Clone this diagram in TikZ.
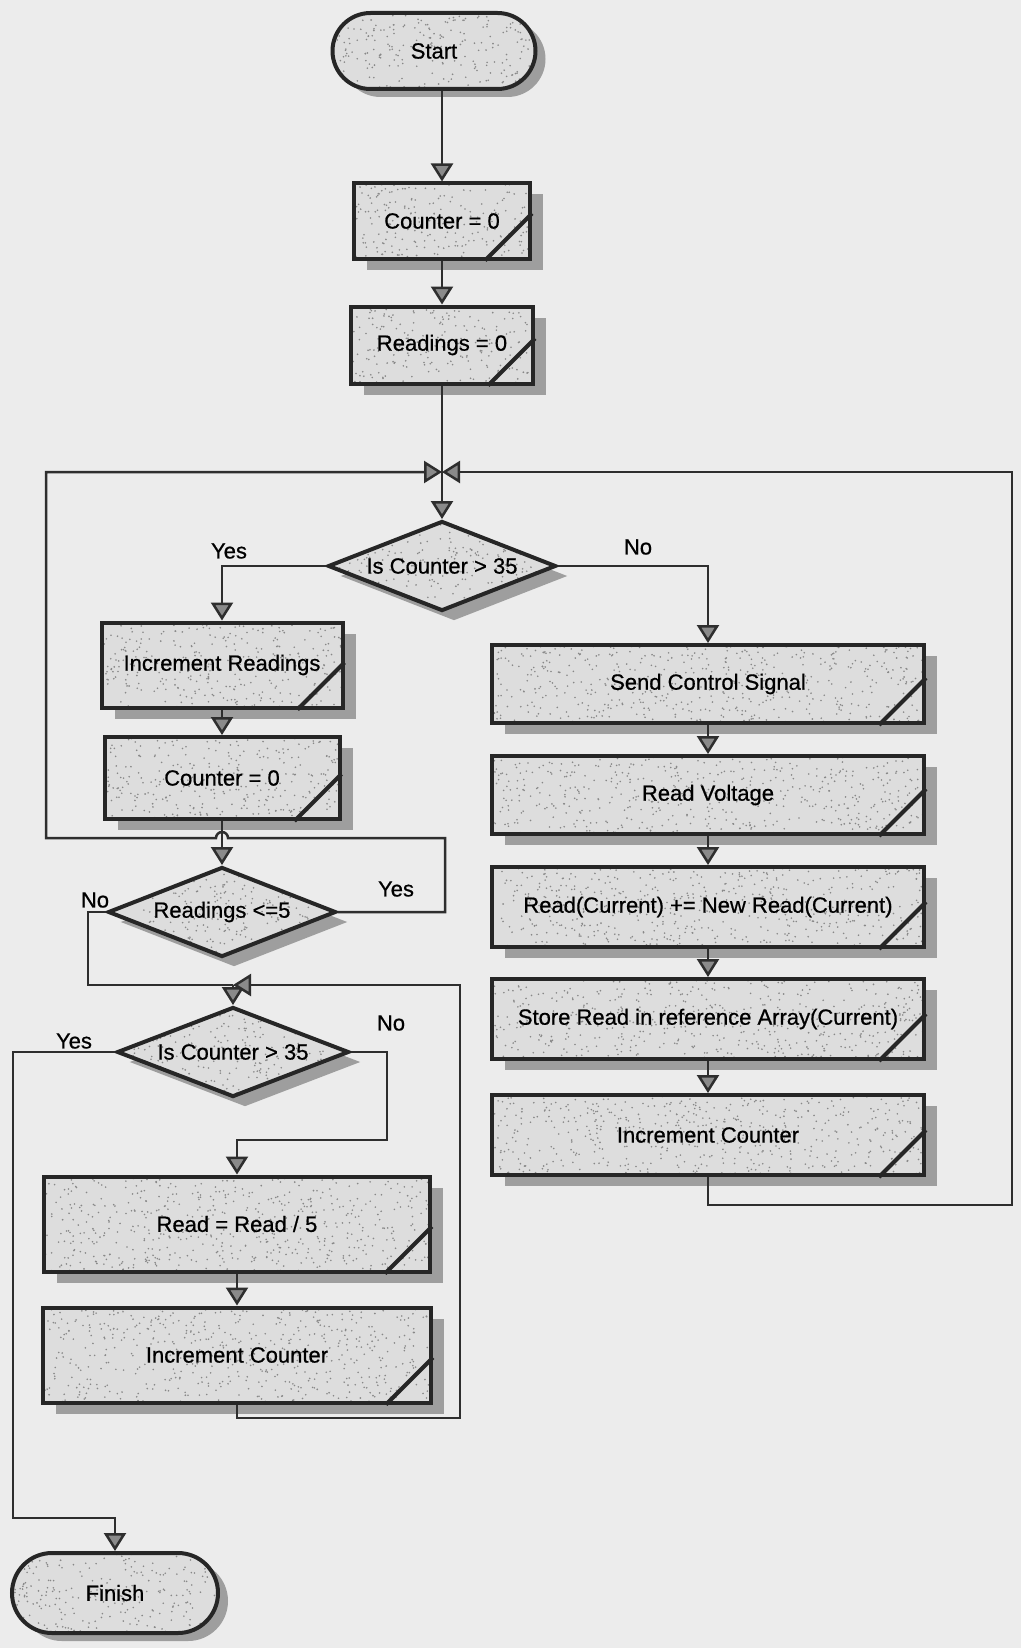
\documentclass[tikz,border=0pt]{standalone}
\usepackage{fontspec}
\setmainfont{Liberation Sans}
\newfontfamily\diagfont{Liberation Sans}[FakeBold=0.7]
\usetikzlibrary{arrows.meta,shapes.geometric,shadows,calc}
\definecolor{bg}{HTML}{ECECEC}
\definecolor{boxfill}{HTML}{DDDDDD}
\definecolor{speckdark}{HTML}{888888}
\definecolor{shad}{HTML}{9E9E9E}
\definecolor{outl}{HTML}{262626}
\definecolor{conn}{HTML}{2E2E2E}
\definecolor{tipfill}{HTML}{8A8A8A}
\newcommand\speckfill{%
  \pgfpointanchor{path picture bounding box}{south west}\pgfgetlastxy{\spWx}{\spSy}%
  \pgfpointanchor{path picture bounding box}{north east}\pgfgetlastxy{\spEx}{\spNy}%
  \pgfmathtruncatemacro\spN{abs(\spEx-\spWx)/8*abs(\spNy-\spSy)/8}%
  \foreach \i in {1,...,\spN}{%
    \pgfmathsetmacro\spx{\spWx+rnd*(\spEx-\spWx)}%
    \pgfmathsetmacro\spy{\spSy+rnd*(\spNy-\spSy)}%
    \fill[speckdark] (\spx pt,\spy pt) circle (0.9pt);}%
}
\begin{document}
\begin{tikzpicture}[x=1pt,y=-1pt,
  base/.style={draw=outl, line width=4pt, fill=boxfill, inner sep=0pt,
    font=\diagfont\fontsize{22}{26}\selectfont, text=black,
    path picture={\speckfill}},
  box/.style={base, rectangle,
    drop shadow={shadow xshift=13pt, shadow yshift=-11pt, fill=shad, opacity=1}},
  term/.style={base, rectangle, rounded corners=38pt,
    drop shadow={shadow xshift=10pt, shadow yshift=-8pt, fill=shad, opacity=1}},
  dia/.style={base, diamond, minimum width=228pt, minimum height=90pt,
    drop shadow={shadow xshift=12pt, shadow yshift=-10pt, fill=shad, opacity=1}},
  txt/.style={font=\diagfont\fontsize{22}{26}\selectfont, text=black, inner sep=0pt},
  lab/.style={font=\diagfont\fontsize{22}{26}\selectfont, text=black, inner sep=0pt},
  line/.style={draw=conn, line width=2.5pt},
  arr/.style={line, -{Triangle[width=22pt,length=18pt,fill=tipfill]}},
  diag/.style={draw=outl, line width=4pt},
]
\pgfmathsetseed{4242}
\fill[bg] (0,0) rectangle (1021,1648);
\useasboundingbox (0,0) rectangle (1021,1648);

% top chain
\node[term, minimum width=203pt, minimum height=76pt] (start) at (434,51) {Start};
\node[box, minimum width=176pt, minimum height=75pt] (c0) at (442,221) {Counter = 0};
\node[box, minimum width=182pt, minimum height=77pt] (r0) at (442,345) {Readings = 0};
\coordinate (J1) at (442,472);
\node[dia] (d1) at (442,566) {};
\node[txt] (d1t) at (d1) {Is Counter > 35};

% left column
\node[box, minimum width=241pt, minimum height=85pt] (ir) at (222,665) {Increment Readings};
\node[box, minimum width=235pt, minimum height=82pt] (c02) at (222,778) {Counter = 0};
\node[dia] (r5) at (222,912) {};
\node[txt] (r5t) at (r5) {Readings <=5};
\coordinate (J2) at (233,985);
\node[dia, minimum width=232pt] (d2) at (233,1052) {};
\node[txt] (d2t) at (d2) {Is Counter > 35};
\node[box, minimum width=386pt, minimum height=95pt] (rd) at (237,1224) {Read = Read / 5};
\node[box, minimum width=388pt, minimum height=95pt] (icl) at (237,1355) {Increment Counter};
\node[term, minimum width=206pt, minimum height=80pt, rounded corners=40pt] (fin) at (115,1593) {Finish};

% right column
\node[box, minimum width=432pt, minimum height=78pt] (scs) at (708,684) {Send Control Signal};
\node[box, minimum width=432pt, minimum height=78pt] (rv) at (708,795) {Read Voltage};
\node[box, minimum width=432pt, minimum height=80pt] (rc) at (708,907) {Read(Current) += New Read(Current)};
\node[box, minimum width=432pt, minimum height=80pt] (st) at (708,1019) {Store Read in reference Array(Current)};
\node[box, minimum width=432pt, minimum height=80pt] (icr) at (708,1135) {Increment Counter};

% corner diagonals
\foreach \b in {c0,r0,ir,c02,rd,icl,scs,rv,rc,st,icr}
  \draw[diag] ([xshift=-47pt]\b.south east) -- ([yshift=47pt]\b.south east);

% labels
\node[lab] (y1) at (229,551) {Yes};
\node[lab] (n1) at (638,547) {No};
\node[lab] (n2) at (95,900) {No};
\node[lab] (y2) at (396,889) {Yes};
\node[lab] (y3) at (74,1041) {Yes};
\node[lab] (n3) at (391,1023) {No};

% connectors
\draw[arr] (start.south -| c0.north) -- (c0.north);
\draw[arr] (c0.south) -- (r0.north);
\draw[line] (r0.south) -- (J1);
\draw[arr] (J1) -- (d1.north);
\draw[arr] (d1.west) -| (ir.north);
\draw[arr] (d1.east) -| (scs.north);
\draw[arr] (ir.south) -- (c02.north);
\draw[arr] (c02.south) -- (r5.north);
% Yes loop of Readings <=5 back to J1 (with hop)
\draw[arr] (r5.east) -| (445,838) -- (228,838)
  arc[start angle=0, end angle=180, radius=6pt] -- (46,838) |- (J1);
% right loop back to J1
\draw[arr] (icr.south) |- (1012,1205) |- (J1);
% right chain
\draw[arr] (scs.south) -- (rv.north);
\draw[arr] (rv.south) -- (rc.north);
\draw[arr] (rc.south) -- (st.north);
\draw[arr] (st.south) -- (icr.north);
% No of Readings <=5
\draw[line] (r5.west) -| (88,985) -- (J2);
\draw[arr] (J2) -- (d2.north);
% left loop back to J2
\draw[arr] (icl.south) |- (460,1418) |- (J2);
% Is Counter > 35 (second)
\draw[arr] (d2.west) -| (13,1518) -| (fin.north);
\draw[arr] (d2.east) -| (387,1140) -| (rd.north);
\draw[arr] (rd.south) -- (icl.north);
\end{tikzpicture}
\end{document}
